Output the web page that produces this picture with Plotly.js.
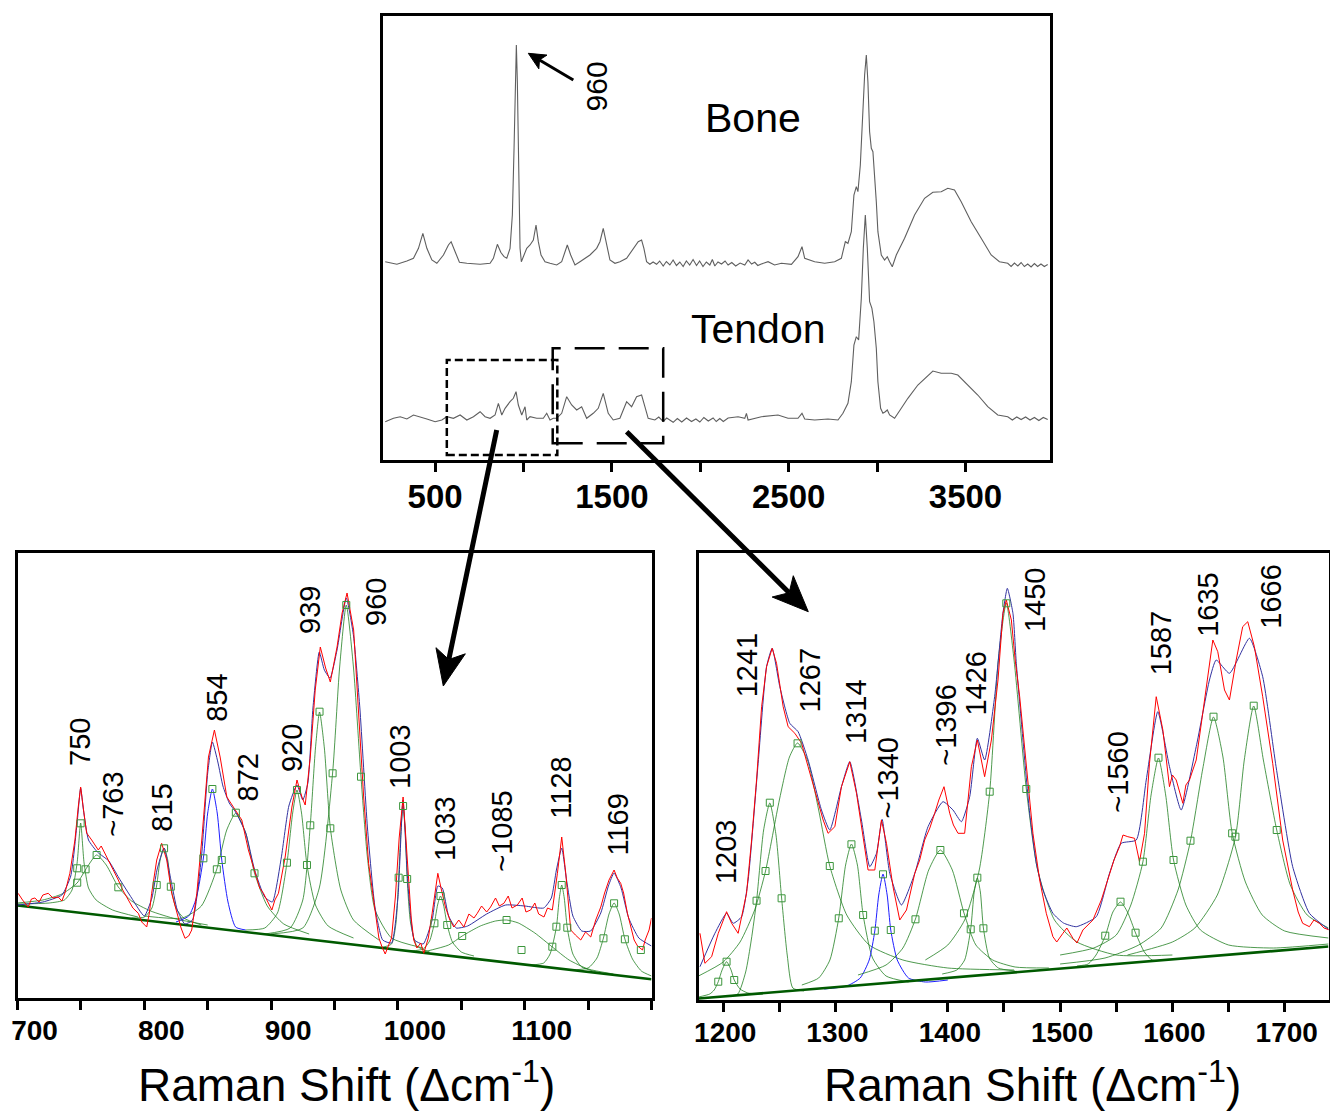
<!DOCTYPE html>
<html>
<head>
<meta charset="utf-8">
<script src="https://cdn.plot.ly/plotly-3.0.1.min.js"></script>
<style>
  html, body { margin: 0; padding: 0; background: #fff; }
  #chart { width: 1330px; height: 1115px; }
</style>
</head>
<body>
<div id="chart"></div>
<script>
// ---------------- Top panel: full Raman spectra (bone / tendon) ----------------
const boneShift = [217.5,283.6,340,377.4,405.6,430.5,453.1,481.4,509.6,546.9,
  575.1,590.4,613,637.3,679.1,754.2,810.7,829.4,852,871.2,
  889.8,905.1,923.7,936.7,946.3,953.7,959.3,965,972.9,980.2,
  987.6,1002.8,1018,1036.7,1055.4,1070.6,1083.6,1098.9,1121.5,1149.7,
  1187.6,1215.8,1234.5,1247.5,1266.7,1291,1319.2,1347.5,1375.7,1413.6,
  1432.2,1450.8,1470.1,1488.7,1517,1545.2,1583.1,1620.3,1648.6,1667.8,
  1680.8,1696,1714.7,1733,1752.5,1770,1790,1808,1827.7,1846,
  1865,1884,1902.8,1921,1940,1959,1978.5,1996,2015,2034,
  2053.7,2068,2081.9,2100,2120,2140,2157.1,2178,2200,2225,
  2251.4,2270.1,2290,2307.9,2325,2345,
  2383.1,2420,2458.8,2515.3,2552.5,2575.1,2590.4,2646.9,2703.4,2759.9,
  2797.7,2820.3,2835,2854.2,2868.9,2882.5,2891.5,2905.1,2916.4,2929.4,
  2939,2948,2957.6,2967.2,2976.3,2985.9,2995.5,3004.5,3023.7,3042.4,
  3057.6,3070.6,3085.9,3108.5,3155.4,3211.9,3268.4,3315.3,3362.7,3400,
  3437.9,3475.7,3532.2,3588.7,3645.2,3692,
  3739,3758,3777,3796,3814.7,3833,3852,3871,3889.8,3908,3927,3946,3965];
const boneIntensity = [198.3,195.7,199,201.7,211.7,226.7,211.7,200,196.7,205,
  215,218.3,208.3,197.7,196.7,195.7,196.7,201.7,215.7,207.7,
  203.3,201.7,211.7,245,311.7,378.3,415,378.3,278.3,211.7,
  198.3,205,211.7,215,220,235,218.3,205,198.3,196.7,
  195,198.3,208.3,215,205,195,198.3,201.7,205,211.7,
  218.3,231.7,215,200,196.7,198.3,201.7,211.7,218.3,220,
  211.7,198.3,195.7,198,195.7,199,194,198.5,195,200,
  194.5,198,193.5,199,195,200.5,194.5,199,193.5,198,
  195,200.5,194,198,196,199,195,197.5,194,197,
  195,200,196,197.7,194.5,196,
  198.3,195,196.7,195.7,203.3,213.3,201.7,198.3,196.7,198.3,
  201.7,218.3,216.7,228.3,265,273.3,268.3,295,345,385,
  405,378.3,328.3,311.7,308.3,285,258.3,228.3,205,200,
  203.3,198.3,193.3,205,221.7,245,261.7,267.7,268.3,271.7,
  270,258.3,238.3,221.7,205,198.3,
  196.7,193.5,197,194,197.5,193.5,196,193,196.5,193.5,196,193.5,195.5];
const tendonShift = [217.5,264.4,302.3,340,377.4,415.3,453.1,500,537.7,566.1,
  603.4,641.2,679.1,716.4,754.2,782.5,810.7,839,857.6,876.8,
  895.5,923.7,942.4,957.6,970.6,989.8,1008.5,1018,1036.7,1074.6,
  1111.9,1131.1,1149.7,1168.4,1187.6,1215.8,1244.1,1272.3,1300.6,1328.8,
  1357.1,1394.4,1422.6,1450.8,1479.1,1507.3,1545.2,1583.1,1611.3,1639.5,
  1667.8,1686.4,1705.1,1742.9,1765,1789.8,1810,1846.3,1870,1895,
  1922,1950,1975,1997.2,2020,2045,2072.3,2090,2110.2,2130,
  2157.1,2213.6,2251.4,2260.8,2270.1,2345.2,2439.5,2496,2552.5,2575.1,
  2590.4,2646.9,2722.2,2778.7,2806.8,2835,2854.2,2868.9,2882.5,2895.5,
  2910.7,2922,2933.3,2944.6,2957.6,2970.6,2981.9,2995.5,3004.5,3019.8,
  3032.8,3046.3,3057.6,3070.6,3098.9,3136.7,3174,3230.5,3287,3315.3,
  3362.7,3419.2,3456.5,3513,3569.5,3626,3682.5,
  3739,3765,3790,3814.7,3840,3865,3889.8,3915,3940,3965];
const tendonIntensity = [38.3,41.7,43.3,41,45,43.3,41,38.3,40,43.3,
  41.7,45,40,43.3,48.3,43.3,41.7,45,56.7,45,
  51.7,58.3,61.7,68.3,55,45,53.3,40,43.3,41.7,
  41.7,46.7,40,41.7,41.7,46.7,63.3,55,50,53.3,
  41.7,46.7,51.7,66.7,46.7,40,41.7,58.3,53.3,63.3,
  65,53.3,41.7,40,43,38.5,42,37.7,41.5,38,
  42,38.5,41,38,42.5,39,42,38.5,41.5,38.5,
  42,43.3,41.7,46.7,40,43.3,45,41.7,41.7,46.7,
  41,40,41,40,46.7,56.7,78.3,115,123.3,120,
  161.7,211.7,245,211.7,158.3,151.7,138.3,111.7,78.3,51.7,
  46.7,48.3,50,45,41.7,51.7,61.7,75,85,89,
  86.7,86.7,85,75,65,53.3,45,
  43.3,40,43,40.5,43,40,42.5,39.5,42.5,40.5];
const overviewLabelVals = [500,1500,2500,3500];
const overviewTickStep = 500;
const zoomBoxLow = [566, 1191, 5, 100];      // shift from, shift to, intensity from, to
const zoomBoxHigh = [1165, 1790, 16.7, 111.7];

// ---------------- Bottom-left panel: 700-1200 cm-1 fit ----------------
const lowMeasuredShift = [700.5,704,708.4,711,713.7,717,720,724.2,728,732.1,
  735,737.4,741.3,745.3,747.9,749.8,751.8,754.5,758.5,763.7,
  766,771.6,775,779.5,783,787.4,791,795.3,798,801.9,
  804,805.8,809.8,813.7,817.7,821.6,826.9,829,832.1,835,
  837.4,841.4,845.3,850.6,855.3,859.8,865.1,871.6,876.9,882.1,
  887.4,891,894,898,900.6,903,905.8,911.1,916.4,920.4,
  924.3,926.9,930.9,934.8,938.8,943,946.7,952,956,959.9,
  965.1,969,973,976.9,982.2,985,987.5,990,992.7,995,
  998,1001,1004.1,1006,1008.5,1010.5,1012.5,1015,1018,1020.4,
  1024,1027,1029,1031.5,1034,1037.5,1041,1044.1,1048,1052,
  1056,1060,1062.6,1066,1070,1073.1,1077,1080,1083.6,1087,
  1090,1094.2,1098,1101,1104.7,1108,1111,1115.2,1118,1121.8,
  1125.8,1129.2,1132.4,1136.3,1140,1144.2,1148,1152.1,1156,1160,
  1163,1166.5,1170.5,1173,1175.7,1178,1181,1184,1186.3,1189,
  1192.9,1195,1198.1,1200];
const lowMeasuredIntensity = [104.7,98,91,99,100,96,103,104.7,100,101,
  97,105,124.7,158,191,211,191,165,158,148,
  152,138,130,118,108,98,90,84.7,76,71,
  85,104.7,138,154.7,138,104.7,78,70,59.7,62,
  68,104.7,158,241,268,241,201,188,178,148,
  124.7,110,104.7,95,88,98,104.7,141,191,218,
  201,193,241,308,351,330,316,351,385,405,
  368,285,201,134.7,84.7,60,51,44,53,60,
  101,160,201,160,118,80,58,50,55,44.7,
  60,84.7,105,124.7,110,91,78,71,78,71,
  84,80,84.7,92,86,91,100,92,94.7,102,
  90,93,100,86,88,95,84,81,90,88,
  124.7,161,124.7,68,63,58,66,61,78,91,
  105,118,128,120,114.7,105,84.7,70,58,52,
  48,58,68,80];
const lowFitShift = [700,720,735,742,747,749.8,752,756,763,772,
  780,790,800,806,810,815.6,821,826,832,838,
  845,850,853.7,858,862,867,872,880,887,895,
  901,908,914,920.4,925,929,933,938,942,946.5,
  952,959.3,965,970,976,982,988,995,1000,1004,
  1008,1013,1020,1027,1031.5,1035,1040,1046,1055,1070,
  1085,1100,1115,1121,1125,1129.2,1133,1138,1145,1152,
  1160,1166,1170.5,1176,1182,1190,1200];
const lowFitIntensity = [93,96,103,122,175,210,188,158,146,137,
  120,100,82,100,128,150,118,88,74,78,
  140,225,256,236,212,195,186,165,128,101,
  96,140,192,213,198,215,290,346,328,320,
  348,400,362,290,170,90,58,55,100,198,
  112,58,54,78,112,110,82,70,72,84,
  93,92,90,100,128,150,118,82,67,67,
  85,112,125,110,80,60,52];
const lowBaselineShift = [700, 1200];
const lowBaselineIntensity = [92.5, 18.7];
const lowComponentNames = ['750','~763','815','854','872','920','939','960','1003','1033','~1085','1128','1169'];
const lowComponentShifts = [
  [700,725,737,743,747,749.8,752.5,756,762,775,795],
  [700,720,735,747,755,762.4,770,779.5,790,805,825,850],
  [790,800,806,809.8,812.5,815.6,818.5,820.9,825,831,845],
  [825,835,841,846.6,850,853.7,857.5,861.1,866,872,880],
  [800,830,845,857.2,865,872.2,880,886.9,897,910,930],
  [880,895,905,912.5,917,920.4,924,928.3,935,945,965],
  [895,915,925,930.9,935,938.2,942,946.7,955,965,985],
  [900,925,938,948.5,954,959.3,965,970.9,976,982,995,1020],
  [985,995,998.5,1000.6,1002.5,1004.1,1005.7,1007.3,1010,1015,1025],
  [1010,1020,1025,1028.8,1031.3,1033.6,1036,1038.9,1043,1050,1060],
  [1020,1040,1050.7,1065,1077,1085.7,1095,1108,1121.8,1135,1150,1170],
  [1105,1115,1120,1125,1127.3,1129.2,1131.2,1133.6,1138,1145,1160],
  [1135,1150,1157,1162.1,1166.5,1170.5,1174.5,1179,1185,1192,1200]
];
const lowComponentIntensities = [
  [94,95,98,108,135,175,135,110,98,88,81],
  [95,98,104,115,131,143,133,111,97,87,79,73],
  [80,81,90,113,138,150,138,111,90,80,73],
  [76,82,100,140,185,209,185,138,96,71,68],
  [82,80,92,129,168,185,165,125,92,74,64],
  [68,70,85,135,185,208,185,133,93,72,60],
  [64,70,98,173,250,286,250,170,108,78,58],
  [64,70,110,225,330,393,330,221,140,88,60,50],
  [50,54,75,120,170,192,170,119,75,52,46],
  [47,49,57,75,93,102,93,73,56,46,42],
  [46,53,62,72,77,78,75,65,51,38,29,24],
  [33,35,44,71,100,113,100,70,44,31,25],
  [28,30,40,60,84,95,84,59,39,27,22]
];
const lowHighlighted = ['854'];
const lowMarkerShift = [749.8,747.1,753.7,747.1,762.4,779.5,809.8,815.6,820.9,846.6,
  853.7,857.2,861.1,872.2,886.9,912.5,920.4,928.3,930.9,938.2,
  946.7,948.5,959.3,970.9,1004.1,1000.6,1007.3,1033.6,1028.8,1038.9,
  1050.7,1085.7,1097.5,1121.8,1129.2,1125,1133.6,1162.1,1170.5,1179,1191.6];
const lowMarkerIntensity = [174.7,129.7,128.7,115.3,143,110.7,113,149.7,111.3,139.7,
  209,128.7,138,185.3,124.7,135.3,208,133,172.7,286.3,
  169.7,224.7,393,221.3,192,120.3,119,102,74.7,73,
  62,78,48,51.3,113,71.3,70.3,59.7,94.7,58.7,48];
const lowPeakLabels = ['750','~763','815','854','872','920','939','960','1003','1033','~1085','1128','1169'];
const lowPeakLabelShift = [749.2,775.5,813.7,857.2,882.1,916.4,930.6,982.7,1002,1037.5,1082.3,1128.4,1173.2];
const lowPeakLabelBase = [231,160,165,275,196,225,363,371,208,136,125,178,141];
const lowLabelVals = [700,800,900,1000,1100];
const lowTickStep = 50;

// ---------------- Bottom-right panel: 1180-1740 cm-1 fit ----------------
const highMeasuredShift = [1179.3,1183.7,1189.7,1195.6,1203,1207.5,1213.3,1220.8,1225.3,1229.7,
  1234.2,1238.6,1243.6,1247.5,1253.4,1257.8,1263.8,1269.8,1275.6,1280,
  1284.5,1289,1293.4,1299.4,1305.3,1312.7,1318.7,1324.6,1329,1335,
  1340.9,1345.4,1351.2,1357.2,1363.2,1370.6,1375,1379.4,1384,1388.3,
  1392,1396.6,1401.7,1405,1409.1,1415,1421,1426.3,1432.8,1438.8,
  1444.7,1449.1,1452.1,1456.6,1460,1464,1469.9,1475.8,1481.8,1487.7,
  1493.6,1497,1502.5,1506,1511.4,1515,1520.3,1524,1529.2,1536.7,
  1544,1548,1552.9,1556,1560.3,1566.3,1570.7,1575.2,1579.6,1585.6,
  1591.5,1597.4,1600,1603.4,1609.3,1612,1615.2,1621.2,1627,1633,
  1636,1640.4,1646.4,1650.8,1656.8,1662.6,1667.1,1673,1680.4,1689.3,
  1698.2,1707.1,1712,1716,1722,1726,1730.9,1735,1739.8];
const highMeasuredIntensity = [66.7,36.7,43.3,66.7,88.3,76.7,66.7,106.7,160,220,
  293.3,333.3,351.7,336.7,293.3,273.3,266.7,256.7,233.3,215,
  196.7,180,166.7,173.3,213.3,238.3,206.7,163.3,130,130,
  180,156.7,113.3,80,90,126.7,140,160,172,186.7,
  200,213.3,186.7,175,166.7,166.7,233.3,260,223.3,260,
  320,386.7,400,380,340,303.3,236.7,166.7,120,86.7,
  63.3,58,66.7,72,61.7,57,70,74,80,100,
  126.7,140,153.3,165,163.3,161.7,138.3,166.7,236.7,303.3,
  270,213.3,225,220,196.7,215,220,240,286.7,336.7,
  360,348.3,310,300,340,373.3,378.3,353.3,303.3,236.7,
  160,110,88,76.7,73.3,80,76.7,72,70];
const highFitShift = [1179.3,1192.6,1203,1208.9,1216.4,1222.2,1231.1,1238.6,1243.6,1250.4,
  1259.3,1266.7,1275.6,1287.5,1294.9,1305.3,1312.7,1323.1,1330.5,1336.5,
  1341.5,1348.3,1358.7,1370.6,1382.4,1395.7,1404.6,1412.1,1419.5,1426.3,
  1432.8,1441.7,1449.1,1453,1458,1461,1466.9,1472.9,1478.8,1484.7,
  1493.6,1503,1514.4,1532.2,1544,1554.4,1567.8,1576.7,1587,1597.4,
  1607.8,1621.2,1633,1639,1650.8,1668.6,1680.4,1692.3,1707.1,1722,
  1739.8];
const highFitIntensity = [33.3,66.7,86.7,76.7,83.3,120,236.7,333.3,351.7,313.3,
  276.7,268.3,240,190,170,213.3,238.3,180,133.3,146.7,
  180.7,126.7,95,126.7,173.3,198.3,190,178.3,203.3,261.7,
  240,303.3,386.7,411.7,386.7,336.7,260,186.7,136.7,110,
  86.7,77,73.3,83.3,126.7,156.7,160,220,288.3,233.3,
  190,253.3,320,340,326.7,361.7,323.3,233.3,133.3,86.7,
  70];
const highBaselineShift = [1178, 1739];
const highBaselineIntensity = [1.5, 53.5];
const highComponentNames = ['1203','1241','1267','1314','~1340','~1396','1426','1450','~1560','1587','1635','1666'];
const highComponentShifts = [
  [1178,1188,1192,1195.6,1199,1203,1207,1209.8,1215,1222,1235],
  [1205,1213,1220,1225,1229.7,1236,1241.5,1247,1252,1257,1262,1272],
  [1178,1200,1215,1228,1237.7,1250,1259,1266.2,1275,1285,1294.9,1310,1330,1360,1400,1459],
  [1270,1285,1295,1302.9,1309,1314.2,1319.5,1324.6,1333,1345,1365],
  [1290,1310,1322,1330,1335,1338.5,1342.3,1346,1349.2,1355,1365,1380,1400],
  [1320,1345,1360,1371.2,1383,1393.4,1404,1414.4,1425,1440,1460,1490],
  [1395,1408,1415,1420.4,1423.5,1426.3,1429,1431.7,1437,1445,1460],
  [1380,1400,1415,1428,1437.3,1445,1452.1,1459,1469.9,1480,1495,1515,1550,1600],
  [1515,1525,1532,1540.2,1547,1553.8,1560,1567.2,1575,1582,1595],
  [1500,1530,1550,1563,1573.7,1581,1587.6,1594,1601,1612,1625,1650,1690,1739],
  [1500,1540,1570,1590,1605,1616.1,1627,1636.6,1645,1653.2,1665,1680,1700,1739],
  [1560,1600,1620,1640,1656.1,1664,1672.4,1681,1692.9,1705,1720,1739]
];
const highComponentIntensities = [
  [3,6,10,18.3,30,38.3,30,20,11,7,6],
  [4,6,28,60,99,170,197,165,102,45,12,9],
  [24,38,58,90,129,200,243,257,240,190,134,85,55,40,32,30],
  [15,22,40,82,135,156,135,85,42,24,18],
  [11,14,22,40,69,105,126,105,70,40,22,18,20],
  [25,35,52,81,130,150,130,87,55,40,33,32],
  [26,30,40,71,108,122,108,72,42,32,29],
  [40,55,80,130,208,340,397,340,211,130,80,58,45,45],
  [34,36,45,64,88,98,88,67,48,40,40],
  [45,52,65,95,138,205,242,205,140,95,70,55,52,56],
  [36,42,55,72,110,159,231,283,243,167,118,85,69,62],
  [45,58,72,105,163,240,294,240,170,115,85,72]
];
const highHighlighted = ['~1340'];
const highMarkerShift = [1203,1195.6,1209.8,1241.5,1237.7,1229.7,1252,1266.2,1294.9,1314.2,
  1302.9,1324.6,1342.3,1335,1349.2,1393.4,1371.2,1414.4,1426.3,1420.4,
  1431.7,1437.3,1452.1,1469.9,1553.8,1540.2,1567.2,1587.6,1573.7,1601,
  1636.6,1616.1,1653.2,1672.4,1656.1,1692.9];
const highMarkerIntensity = [38.3,18.3,20,197.3,129,99.3,101.7,256.7,134,155.7,
  81.7,85,125.7,69.3,70,150,80.7,86.7,122.3,70.7,
  71.7,208.3,396.7,211,98.3,64.3,67.3,242.3,138.3,140,
  283.3,159.3,166.7,294.3,163.3,170];
const highPeakLabels = ['1203','1241','1267','1314','~1340','~1396','1426','1450','~1560','1587','1635','1666'];
const highPeakLabelShift = [1203,1220.8,1277,1318.7,1346.8,1398.8,1425.4,1478.2,1551.4,1590,1632,1688];
const highPeakLabelBase = [115,301.7,286.7,255,180,233.3,283.3,367,186.7,323.3,362,370];
const highLabelVals = [1200,1300,1400,1500,1600,1700];
const highTickStep = 50;

// ---------------- styling ----------------
const W = 1330, H = 1115;
const px = v => v / W;
const py = v => 1 - v / H;
const FONT = 'Liberation Sans, Arial, sans-serif';
const GREEN = 'rgba(20,120,20,0.75)';
const traces = [];

traces.push({x: boneShift, y: boneIntensity, xaxis: 'x', yaxis: 'y', mode: 'lines',
  line: {color: 'rgb(95,95,95)', width: 1.1}, hoverinfo: 'skip'});
traces.push({x: tendonShift, y: tendonIntensity, xaxis: 'x', yaxis: 'y', mode: 'lines',
  line: {color: 'rgb(95,95,95)', width: 1.1}, hoverinfo: 'skip'});

function addPanel(ax, ay, names, shifts, ints, highlighted, baseX, baseY, fitX, fitY, measX, measY, mX, mY) {
  names.forEach((n, i) => {
    const hl = highlighted.indexOf(n) >= 0;
    traces.push({x: shifts[i], y: ints[i], xaxis: ax, yaxis: ay, mode: 'lines',
      line: {color: hl ? 'rgb(30,30,255)' : GREEN, width: 1, shape: 'spline', smoothing: 0.6}, hoverinfo: 'skip'});
  });
  traces.push({x: baseX, y: baseY, xaxis: ax, yaxis: ay, mode: 'lines',
    line: {color: 'rgb(0,90,0)', width: 2.6}, hoverinfo: 'skip'});
  traces.push({x: fitX, y: fitY, xaxis: ax, yaxis: ay, mode: 'lines',
    line: {color: 'rgb(50,50,160)', width: 1, shape: 'spline', smoothing: 0.5}, hoverinfo: 'skip'});
  traces.push({x: measX, y: measY, xaxis: ax, yaxis: ay, mode: 'lines',
    line: {color: 'rgb(255,0,0)', width: 1}, hoverinfo: 'skip'});
  traces.push({x: mX, y: mY, xaxis: ax, yaxis: ay, mode: 'markers',
    marker: {symbol: 'square-open', size: 7, color: 'rgb(60,150,60)', line: {width: 1}}, hoverinfo: 'skip'});
}
addPanel('x2', 'y2', lowComponentNames, lowComponentShifts, lowComponentIntensities, lowHighlighted,
  lowBaselineShift, lowBaselineIntensity, lowFitShift, lowFitIntensity,
  lowMeasuredShift, lowMeasuredIntensity, lowMarkerShift, lowMarkerIntensity);
addPanel('x3', 'y3', highComponentNames, highComponentShifts, highComponentIntensities, highHighlighted,
  highBaselineShift, highBaselineIntensity, highFitShift, highFitIntensity,
  highMeasuredShift, highMeasuredIntensity, highMarkerShift, highMarkerIntensity);

const frameAxis = {showline: true, linewidth: 3, linecolor: 'black', mirror: true,
  showgrid: false, zeroline: false};
function xAx(domain, range, labelVals, step, anchor, size, shift) {
  return Object.assign({}, frameAxis, {domain, range, anchor, tickmode: 'array',
    tickvals: labelVals, ticktext: labelVals.map(String), ticks: 'outside', ticklen: 9, tickwidth: 3, tickcolor: 'black',
    ticklabelshift: shift, ticklabelstandoff: -4,
    minor: {tick0: labelVals[0], dtick: step, ticks: 'outside', ticklen: 9, tickwidth: 3, tickcolor: 'black', showgrid: false},
    tickfont: {family: FONT, size: size, color: 'black', weight: 700}});
}
function yAx(domain, range, anchor) {
  return Object.assign({}, frameAxis, {domain, range, anchor, showticklabels: false, ticks: ''});
}

const annotations = [];
function peakLabels(labels, xs, ys, xref, yref) {
  labels.forEach((t, i) => annotations.push({text: t, x: xs[i], y: ys[i], xref, yref,
    showarrow: false, textangle: -90, xanchor: 'center', yanchor: 'bottom', borderpad: 0,
    font: {family: FONT, size: 29, color: 'black'}}));
}
peakLabels(lowPeakLabels, lowPeakLabelShift, lowPeakLabelBase, 'x2', 'y2');
peakLabels(highPeakLabels, highPeakLabelShift, highPeakLabelBase, 'x3', 'y3');

function paperText(text, X, Y, size, angle) {
  annotations.push({text, x: px(X), y: py(Y), xref: 'paper', yref: 'paper', showarrow: false,
    xanchor: 'center', yanchor: 'middle', textangle: angle || 0, borderpad: 0,
    font: {family: FONT, size, color: 'black'}});
}
paperText('Bone', 752.5, 118, 41);
paperText('Tendon', 758, 329, 41);
paperText('960', 596.7, 86.7, 30, -90);
paperText('Raman Shift (Δcm<sup>-1</sup>)', 346, 1082, 46);
paperText('Raman Shift (Δcm<sup>-1</sup>)', 1032, 1082, 46);

const shapes = [
  {type: 'rect', xref: 'x', yref: 'y', x0: zoomBoxLow[0], x1: zoomBoxLow[1], y0: zoomBoxLow[2], y1: zoomBoxLow[3],
   line: {color: 'black', width: 2.5, dash: '8px,4px'}},
  {type: 'rect', xref: 'x', yref: 'y', x0: zoomBoxHigh[0], x1: zoomBoxHigh[1], y0: zoomBoxHigh[2], y1: zoomBoxHigh[3],
   line: {color: 'black', width: 2.5, dash: '30px,14px'}}
];
// arrows drawn as shapes (tail -> head, in page pixels)
function arrow(tx, ty, hx, hy, lw, L, w, notch) {
  const dx = hx - tx, dy = hy - ty, len = Math.hypot(dx, dy);
  const ux = dx / len, uy = dy / len, nx = -uy, ny = ux;
  const bx = hx - L * ux, by = hy - L * uy;
  const mx = hx - (L - notch) * ux, my = hy - (L - notch) * uy;
  shapes.push({type: 'line', xref: 'paper', yref: 'paper', x0: px(tx), y0: py(ty), x1: px(mx), y1: py(my),
    line: {color: 'black', width: lw}});
  const pts = [[hx, hy], [bx + w * nx, by + w * ny], [mx, my], [bx - w * nx, by - w * ny]];
  const path = 'M' + pts.map(p => px(p[0]).toFixed(5) + ',' + py(p[1]).toFixed(5)).join('L') + 'Z';
  shapes.push({type: 'path', xref: 'paper', yref: 'paper', path, fillcolor: 'black', line: {color: 'black', width: 1}});
}
arrow(573.3, 80, 528.3, 53.3, 3, 17, 8, 4);
arrow(496.7, 430, 443.3, 686, 5, 36, 15, 9);
arrow(626.7, 431.7, 808.3, 611.7, 5, 36, 15, 9);

const layout = {
  width: W, height: H, margin: {l: 0, r: 0, t: 0, b: 0},
  paper_bgcolor: 'white', plot_bgcolor: 'white', showlegend: false,
  xaxis: xAx([px(383), px(1050)], [205, 3978], overviewLabelVals, overviewTickStep, 'y', 33, 0),
  yaxis: yAx([py(460), py(16)], [0, 444], 'x'),
  xaxis2: xAx([px(17.5), px(651.5)], [700, 1200], lowLabelVals, lowTickStep, 'y2', 28, 17),
  yaxis2: yAx([py(998), py(553)], [0, 445], 'x2'),
  xaxis3: xAx([px(698.5), px(1328.5)], [1178, 1739], highLabelVals, highTickStep, 'y3', 28, 2),
  yaxis3: yAx([py(1000), py(553)], [0, 447], 'x3'),
  annotations, shapes
};

Plotly.newPlot('chart', traces, layout, {displayModeBar: false, staticPlot: true});
</script>
</body>
</html>
